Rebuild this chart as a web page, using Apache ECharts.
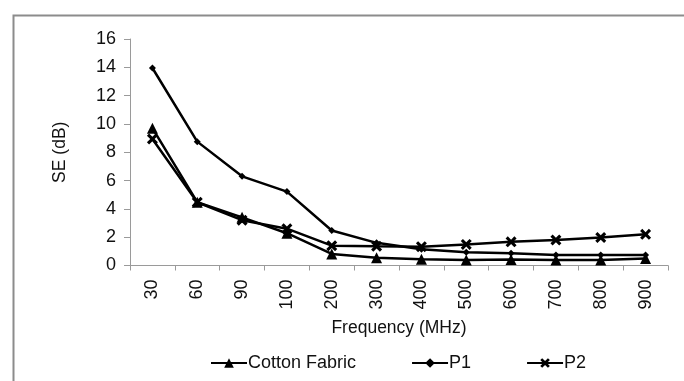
<!DOCTYPE html>
<html>
<head>
<meta charset="utf-8">
<script src="https://cdn.jsdelivr.net/npm/echarts@6/dist/echarts.min.js"></script>
<style>
  html, body { margin: 0; padding: 0; background: #fff; }
  #chart { width: 684px; height: 381px; }
</style>
</head>
<body>
<div id="chart"></div>
<script>
// Shielding effectiveness of fabrics vs. frequency
const frequencies = ['30', '60', '90', '100', '200', '300', '400', '500', '600', '700', '800', '900'];
const cottonFabric = [9.7, 4.47, 3.4, 2.28, 0.82, 0.55, 0.45, 0.39, 0.42, 0.39, 0.39, 0.5];
const p1 = [13.95, 8.75, 6.3, 5.22, 2.47, 1.6, 1.14, 0.93, 0.86, 0.75, 0.74, 0.74];
const p2 = [8.94, 4.47, 3.2, 2.6, 1.4, 1.36, 1.33, 1.49, 1.67, 1.8, 1.98, 2.2];
const yTicks = { min: 0, max: 16, interval: 2 };

const FONT = '"Liberation Sans", Arial, sans-serif';
const crossPath = 'path://M2,0 L5,3 L8,0 L10,2 L7,5 L10,8 L8,10 L5,7 L2,10 L0,8 L3,5 L0,2 Z';

function lineSeries(name, data, symbol, size) {
  return {
    name: name,
    type: 'line',
    data: data,
    symbol: symbol,
    symbolSize: size,
    showAllSymbol: true,
    lineStyle: { color: '#000', width: 2.5 },
    itemStyle: { color: '#000', borderWidth: 0 },
    emphasis: { disabled: true },
    animation: false
  };
}

const chart = echarts.init(document.getElementById('chart'), null, { renderer: 'canvas' });
chart.setOption({
  animation: false,
  backgroundColor: '#fff',
  textStyle: { fontFamily: FONT },
  graphic: [{
    type: 'rect',
    left: 11, top: 13,
    shape: { width: 720, height: 420 },
    style: { fill: 'none', stroke: '#8c8c8c', lineWidth: 2 },
    silent: true
  }],
  grid: { left: 130, right: 16, top: 39, bottom: 115.5 },
  legend: {
    left: 205, top: 349,
    itemWidth: 36, itemHeight: 12, itemGap: 55,
    textStyle: { fontFamily: FONT, fontSize: 18, color: '#111', padding: [0, 0, 0, -4] },
    data: ['Cotton Fabric', 'P1', 'P2']
  },
  xAxis: {
    type: 'category',
    data: frequencies,
    boundaryGap: true,
    name: 'Frequency (MHz)',
    nameLocation: 'middle',
    nameGap: 54,
    nameTextStyle: { fontFamily: FONT, fontSize: 17.5, color: '#111', verticalAlign: 'top' },
    axisLine: { lineStyle: { color: '#9a9a9a', width: 1 } },
    axisTick: { show: true, length: 5, lineStyle: { color: '#9a9a9a' } },
    axisLabel: { rotate: 90, margin: 14, fontFamily: FONT, fontSize: 18, color: '#111' },
    splitLine: { show: false }
  },
  yAxis: {
    type: 'value',
    min: yTicks.min, max: yTicks.max, interval: yTicks.interval,
    name: 'SE (dB)',
    nameLocation: 'middle',
    nameGap: 61,
    nameRotate: 90,
    nameTextStyle: { fontFamily: FONT, fontSize: 17.5, color: '#111' },
    axisLine: { show: true, lineStyle: { color: '#9a9a9a', width: 1 } },
    axisTick: { show: true, length: 6, lineStyle: { color: '#9a9a9a' } },
    axisLabel: { margin: 14, fontFamily: FONT, fontSize: 18, color: '#111' },
    splitLine: { show: false }
  },
  series: [
    lineSeries('Cotton Fabric', cottonFabric, 'triangle', 11),
    lineSeries('P1', p1, 'diamond', 7),
    lineSeries('P2', p2, crossPath, 11)
  ]
});
</script>
</body>
</html>
